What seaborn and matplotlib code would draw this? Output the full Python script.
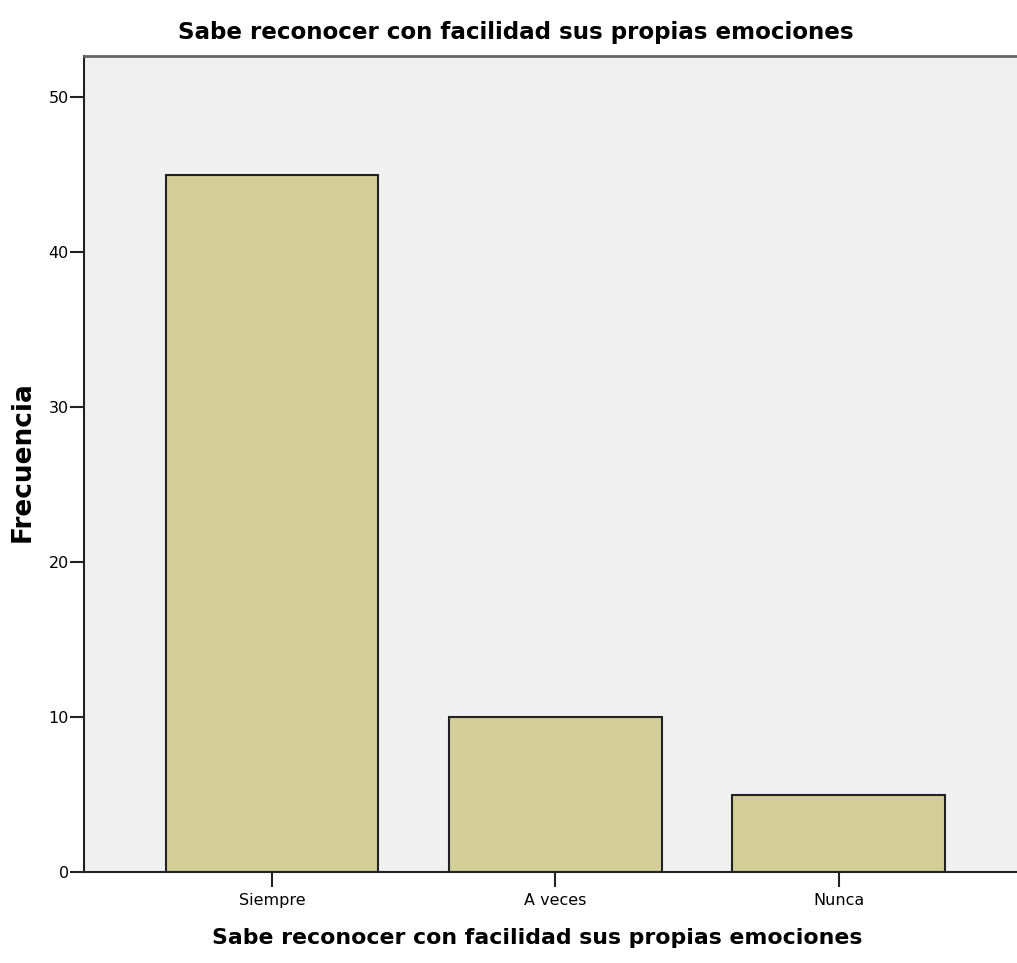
import matplotlib.pyplot as plt
from matplotlib import font_manager
import seaborn as sns
import pandas as pd

categories = ["Siempre", "A veces", "Nunca"]
counts = [45, 10, 5]
y_ticks = [0, 10, 20, 30, 40, 50]

TITLE = "Sabe reconocer con facilidad sus propias emociones"

sns.set_style("white")
plt.rcParams["font.family"] = ["DejaVu Sans"]
plt.rcParams["text.color"] = "black"

installed = {f.name for f in font_manager.fontManager.ttflist}
if "Liberation Sans Narrow" in installed:
    NARROW = ["Liberation Sans Narrow", "DejaVu Sans"]
    title_size, xlabel_size, tick_size = 20, 18, 13
else:
    NARROW = ["DejaVu Sans"]
    title_size, xlabel_size, tick_size = 16.6, 15.8, 11.5

data = pd.DataFrame({"categoria": categories, "frecuencia": counts})

fig = plt.figure(figsize=(10.17, 9.63), dpi=100)
ax = fig.add_axes([0.0826, 0.0945, 0.927, 0.8473])
ax.set_facecolor("#f0f0f0")

sns.barplot(data=data, x="categoria", y="frecuencia", order=categories,
            color="#d3ce97", saturation=1, width=0.75,
            edgecolor="#222222", linewidth=1.5, ax=ax)

ax.set_xlim(-0.664, 2.664)
ax.set_ylim(0, 52.65)
ax.set_yticks(y_ticks)
ax.set_yticklabels([str(t) for t in y_ticks], fontfamily=NARROW, fontsize=tick_size)
ax.set_xticks(range(len(categories)))
ax.set_xticklabels(categories, fontfamily=NARROW, fontsize=tick_size)
ax.tick_params(axis="y", left=True, length=10, width=1.5, color="#222222",
               labelcolor="black", pad=1)
ax.tick_params(axis="x", bottom=True, length=11, width=1.5, color="#222222",
               labelcolor="black", pad=4)
ax.set_xlabel("")
ax.set_ylabel("")

for side in ["left", "bottom"]:
    ax.spines[side].set_color("#222222")
    ax.spines[side].set_linewidth(1.5)
ax.spines["top"].set_color("#666666")
ax.spines["top"].set_linewidth(2)
ax.spines["right"].set_visible(False)

fig.text(0.507, 0.966, TITLE, ha="center", va="center", color="black",
         fontsize=title_size, fontweight="bold", family=NARROW)
fig.text(0.528, 0.026, TITLE, ha="center", va="center", color="black",
         fontsize=xlabel_size, fontweight="bold", family=NARROW)
fig.text(0.022, 0.521, "Frecuencia", ha="center", va="center", color="black",
         rotation=90, fontsize=19, fontweight="bold")

fig.savefig("out.png", dpi=100)
